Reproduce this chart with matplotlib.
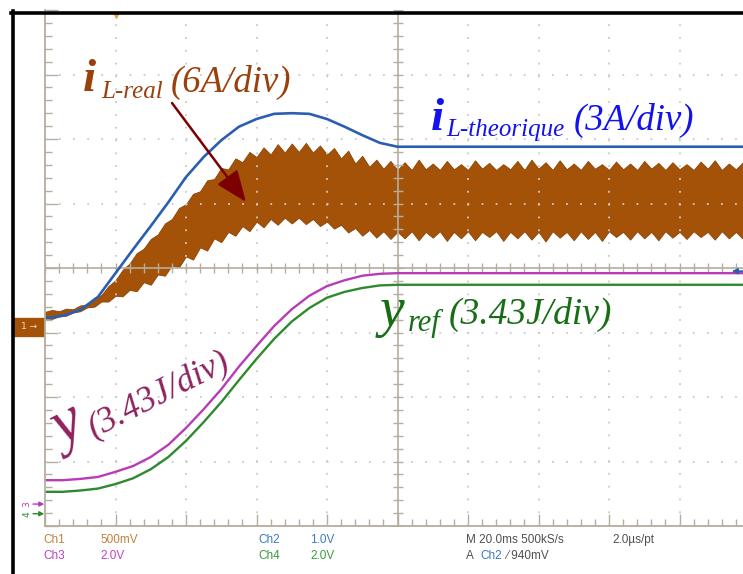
import numpy as np
import matplotlib.pyplot as plt
from matplotlib.lines import Line2D
from matplotlib.patches import Rectangle

W, H = 743, 574

# screen positions are in divisions (time 20 ms/div, 8 vertical divisions)
t_env = np.arange(0, 10.01, 0.1)

# ch1 : measured inductor current i_L (band edges, div)
il_real_top = [-0.68, -0.65, -0.67, -0.63, -0.64, -0.58, -0.57, -0.46, -0.42, -0.28,
               -0.19, -0.03, 0.07, 0.23, 0.30, 0.45, 0.52, 0.69, 0.76, 0.93,
               0.99, 1.15, 1.19, 1.36, 1.38, 1.55, 1.53, 1.70, 1.64, 1.80,
               1.72, 1.87, 1.76, 1.92, 1.79, 1.93, 1.80, 1.94, 1.79, 1.90,
               1.76, 1.86, 1.70, 1.82, 1.62, 1.74, 1.57, 1.68, 1.54, 1.66,
               1.52, 1.64, 1.52, 1.68, 1.53, 1.62, 1.52, 1.66, 1.53, 1.61,
               1.52, 1.67, 1.54, 1.63, 1.52, 1.61, 1.53, 1.66, 1.52, 1.68,
               1.54, 1.64, 1.52, 1.67, 1.53, 1.62, 1.52, 1.66, 1.54, 1.61,
               1.52, 1.65, 1.53, 1.62, 1.52, 1.66, 1.54, 1.63, 1.52, 1.64,
               1.53, 1.61, 1.52, 1.65, 1.54, 1.67, 1.52, 1.62, 1.53, 1.64,
               1.52]
il_real_bot = [-0.78, -0.79, -0.75, -0.74, -0.69, -0.67, -0.61, -0.60, -0.52, -0.52,
               -0.43, -0.44, -0.34, -0.36, -0.22, -0.26, -0.10, -0.12, 0.04, 0.01,
               0.18, 0.13, 0.32, 0.27, 0.46, 0.40, 0.56, 0.50, 0.65, 0.57,
               0.72, 0.63, 0.76, 0.67, 0.78, 0.69, 0.78, 0.68, 0.76, 0.65,
               0.72, 0.61, 0.67, 0.55, 0.62, 0.50, 0.59, 0.47, 0.57, 0.45,
               0.56, 0.46, 0.57, 0.43, 0.56, 0.47, 0.57, 0.42, 0.56, 0.46,
               0.57, 0.43, 0.56, 0.48, 0.57, 0.42, 0.56, 0.46, 0.57, 0.44,
               0.56, 0.41, 0.57, 0.47, 0.56, 0.43, 0.57, 0.45, 0.56, 0.42,
               0.57, 0.48, 0.56, 0.44, 0.57, 0.46, 0.56, 0.43, 0.57, 0.47,
               0.56, 0.45, 0.57, 0.48, 0.56, 0.44, 0.57, 0.46, 0.56, 0.45,
               0.57]

t_curve = [0, 0.25, 0.5, 0.75, 1.0, 1.25, 1.5, 1.75, 2.0, 2.25, 2.5,
           2.75, 3.0, 3.25, 3.5, 3.75, 4.0, 4.25, 4.5, 4.75, 5.0, 10]
# ch2 : theoretical inductor current
il_theo = [-0.78, -0.74, -0.65, -0.45, -0.08, 0.29, 0.65, 1.02, 1.41, 1.72, 1.98,
           2.19, 2.31, 2.39, 2.40, 2.39, 2.31, 2.19, 2.06, 1.94, 1.88, 1.88]
# ch3 : y   ch4 : y_ref
y_meas = [-3.29, -3.29, -3.27, -3.24, -3.16, -3.07, -2.93, -2.74, -2.48, -2.19, -1.88,
          -1.53, -1.21, -0.90, -0.64, -0.43, -0.28, -0.19, -0.12, -0.09, -0.08, -0.08]
y_ref = [-3.47, -3.47, -3.45, -3.42, -3.35, -3.26, -3.12, -2.93, -2.68, -2.39, -2.08,
         -1.74, -1.41, -1.10, -0.83, -0.62, -0.46, -0.37, -0.31, -0.27, -0.26, -0.26]

ch_zero = {'1': -0.91, '3': -3.66, '4': -3.81}
trig_level = -0.05

brown = '#A45208'
gridc = '#b4ae9e'
magenta = '#b83cb8'
green = '#2e8a2e'
blue = '#2a5fb0'


def fx(px):
    return px / W


def fy(py):
    return 1 - py / H


fig = plt.figure(figsize=(W / 100, H / 100), dpi=100)
ax = fig.add_axes([fx(45), fy(526), 705 / W, 516 / H])
ax.set_xlim(0, 10)
ax.set_ylim(-4, 4)

# graticule
ax.set_xticks(range(11))
ax.set_xticks(np.arange(0, 10.01, 0.2), minor=True)
ax.set_yticks(range(-4, 5))
ax.set_yticks(np.arange(-4, 4.01, 0.2), minor=True)
ax.tick_params(which='both', direction='in', labelbottom=False, labelleft=False,
               color=gridc, width=1)
ax.tick_params(which='major', length=9)
ax.tick_params(which='minor', length=5)
for s in ['top', 'right']:
    ax.spines[s].set_visible(False)
for s in ['left', 'bottom']:
    ax.spines[s].set_color(gridc)
    ax.spines[s].set_linewidth(1.3)

for x in range(1, 10):
    if x != 5:
        ax.axvline(x, color='#cacaca', lw=1.3, dashes=(1, 6.1))
for y in range(-3, 4):
    if y != 0:
        ax.axhline(y, color='#cacaca', lw=1.3, dashes=(1, 6.8))
ax.axvline(5, color=gridc, lw=1.2)
ax.axhline(0, color=gridc, lw=1.2)
ax.plot(np.arange(0, 10.01, 0.2), np.zeros(51), ls='none', marker='|', ms=7,
        mew=1, color=gridc)
ax.plot(np.full(41, 5.0), np.arange(-4, 4.01, 0.2), ls='none', marker='_', ms=7,
        mew=1, color=gridc)

# traces
ax.fill_between(t_env, il_real_bot, il_real_top, color=brown, lw=0.6, ec='#8a4406')
ax.plot(t_curve, il_theo, color=blue, lw=1.9)
ax.plot(t_curve, y_meas, color=magenta, lw=1.7)
ax.plot(t_curve, y_ref, color=green, lw=1.7)

# channel markers
ax.add_patch(Rectangle((-0.44, ch_zero['1'] - 0.14), 0.43, 0.28, color=brown,
                       clip_on=False))
ax.text(-0.22, ch_zero['1'], '1 →', ha='center', va='center', fontsize=6.5,
        color='#f3dcc0', clip_on=False)
for ch, c in [('3', magenta), ('4', green)]:
    ax.text(-0.26, ch_zero[ch], ch, rotation=90, ha='center', va='center',
            fontsize=6.5, color=c, clip_on=False)
    ax.annotate('', xy=(-0.01, ch_zero[ch]), xytext=(-0.17, ch_zero[ch]),
                arrowprops=dict(arrowstyle='-|>', color=c, lw=1,
                                mutation_scale=7, shrinkA=0, shrinkB=0),
                annotation_clip=False)
ax.annotate('', xy=(9.74, trig_level), xytext=(10, trig_level),
            arrowprops=dict(arrowstyle='-|>', color=blue, lw=1.3,
                            mutation_scale=8, shrinkA=0, shrinkB=0),
            annotation_clip=False)
ax.plot([1.0], [3.93], marker='v', ms=5, color='#f2a24a', clip_on=False)

# black frame of the screenshot
fig.add_artist(Line2D([fx(12.5), fx(12.5)], [0, fy(11)], color='black', lw=2.6))
fig.add_artist(Line2D([fx(11), 1], [fy(12.5), fy(12.5)], color='black', lw=2.6))

# labels
serif = 'Liberation Serif'
c1 = '#9a400c'
fig.text(fx(83), fy(91), 'i', family=serif, style='italic', weight='bold',
         fontsize=34, color=c1)
fig.text(fx(101), fy(98), 'L-real', family=serif, style='italic', fontsize=18,
         color=c1)
fig.text(fx(171), fy(92), '(6A/div)', family=serif, style='italic', fontsize=26.5,
         color=c1)
ax.annotate('', xy=(fx(246), fy(202)), xytext=(fx(172), fy(103)),
            xycoords='figure fraction', textcoords='figure fraction',
            arrowprops=dict(arrowstyle='-|>,head_length=0.4,head_width=0.16',
                            mutation_scale=48, color='#7c0000', lw=1.8,
                            shrinkA=0, shrinkB=0))

c2 = '#1212ee'
fig.text(fx(431), fy(130), 'i', family=serif, style='italic', weight='bold',
         fontsize=34, color=c2)
fig.text(fx(446), fy(136), 'L-theorique', family=serif, style='italic',
         fontsize=18, color=c2)
fig.text(fx(574), fy(130), '(3A/div)', family=serif, style='italic', fontsize=26.5,
         color=c2)

c3 = '#176e17'
fig.text(fx(380), fy(326), 'y', family=serif, style='italic', fontsize=40,
         color=c3)
fig.text(fx(408), fy(331), 'ref', family=serif, style='italic', fontsize=22,
         color=c3)
fig.text(fx(449), fy(324), '(3.43J/div)', family=serif, style='italic',
         fontsize=27, color=c3)

c4 = '#8e225f'
fig.text(fx(62), fy(448), 'y', family=serif, style='italic', fontsize=46,
         color=c4, rotation=27, rotation_mode='anchor')
fig.text(fx(94), fy(438), '(3.43J/div)', family=serif, style='italic',
         fontsize=25.5, color=c4, rotation=27, rotation_mode='anchor')

# scope readout
mono = ['Liberation Sans Narrow', 'Liberation Sans']
info = [(43, 540, 'Ch1', '#c0803e'), (100, 540, '500mV', '#c0803e'),
        (258, 540, 'Ch2', '#3a7ac0'), (310, 540, '1.0V', '#3a7ac0'),
        (466, 540, 'M 20.0ms 500kS/s', '#505050'), (612, 540, '2.0µs/pt', '#505050'),
        (43, 556, 'Ch3', '#c040c0'), (100, 556, '2.0V', '#c040c0'),
        (258, 556, 'Ch4', '#3a9a3a'), (310, 556, '2.0V', '#3a9a3a'),
        (466, 556, 'A', '#505050'), (480, 556, 'Ch2', '#3a7ac0'),
        (506, 556, '⁄ 940mV', '#505050')]
for x, y, s, c in info:
    fig.text(fx(x), fy(y), s, family=mono, fontsize=8.5, color=c, va='center')

fig.savefig('out.png', dpi=100, facecolor='white')
